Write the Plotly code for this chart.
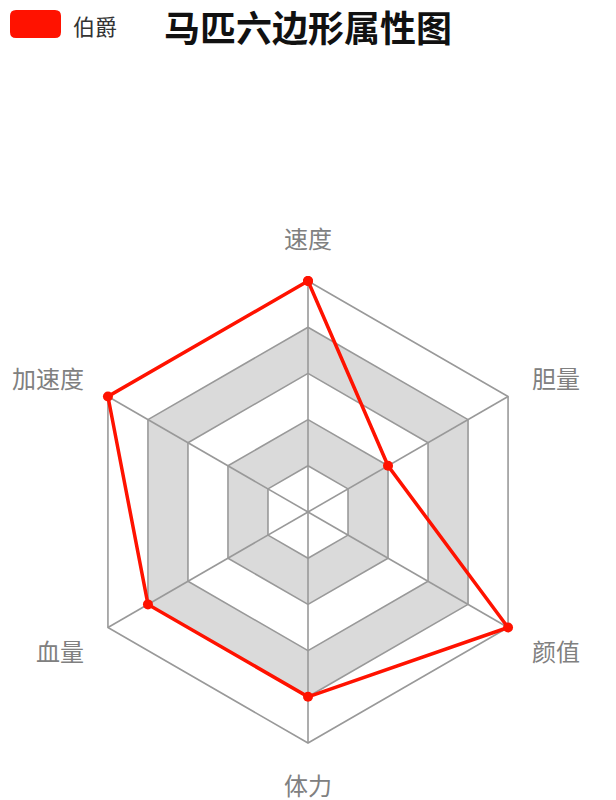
import plotly.graph_objects as go

categories = ["速度", "胆量", "颜值", "体力", "血量", "加速度"]
series_name = "伯爵"
values = [100, 40, 100, 80, 80, 100]
ring_levels = [20, 40, 60, 80, 100]
radial_max = 100
radial_pad = 1.5  # small headroom so outer lines are not clipped

W, H = 616, 800
cx, cy, R = 308, 512, 231
R_dom = R * (radial_max + radial_pad) / radial_max

GRID = "#999999"
BAND = "#dadada"
RED = "#ff1200"
FONT = "Noto Sans CJK SC"

theta_closed = categories + [categories[0]]

fig = go.Figure()

# alternating split areas (grey bands 20-40 and 60-80)
for lvl, col in [(80, BAND), (60, "white"), (40, BAND), (20, "white")]:
    fig.add_trace(go.Scatterpolar(
        r=[lvl] * len(theta_closed), theta=theta_closed, mode="lines",
        fill="toself", fillcolor=col, line=dict(width=0, color=col),
        hoverinfo="skip", showlegend=False))

# ring lines
for lvl in ring_levels:
    fig.add_trace(go.Scatterpolar(
        r=[lvl] * len(theta_closed), theta=theta_closed, mode="lines",
        line=dict(width=1.6, color=GRID), hoverinfo="skip", showlegend=False))

# spokes
for c in categories:
    fig.add_trace(go.Scatterpolar(
        r=[0, radial_max], theta=[c, c], mode="lines",
        line=dict(width=1.6, color=GRID), hoverinfo="skip", showlegend=False))

# data series
fig.add_trace(go.Scatterpolar(
    r=values + [values[0]], theta=theta_closed, mode="lines+markers",
    name=series_name, line=dict(color=RED, width=3.5),
    marker=dict(color=RED, size=10), showlegend=False, cliponaxis=False))

dom_x = [(cx - R_dom) / W, (cx + R_dom) / W]
dom_y = [(H - (cy + R_dom)) / H, (H - (cy - R_dom)) / H]

fig.update_layout(
    width=W, height=H,
    margin=dict(l=0, r=0, t=0, b=0),
    paper_bgcolor="white",
    plot_bgcolor="white",
    font=dict(family=FONT),
    polar=dict(
        domain=dict(x=dom_x, y=dom_y),
        bgcolor="white",
        gridshape="linear",
        radialaxis=dict(range=[0, radial_max + radial_pad], visible=False, showgrid=False),
        angularaxis=dict(
            rotation=90, direction="clockwise",
            categoryorder="array", categoryarray=categories,
            showgrid=False, showline=False,
            ticks="outside", ticklen=19, tickcolor="rgba(0,0,0,0)",
            tickfont=dict(size=24, color="#808080", family=FONT),
        ),
    ),
    title=dict(
        text="<b>马匹六边形属性图</b>", x=0.5, xanchor="center",
        y=1 - 29 / H, yanchor="middle", yref="container",
        font=dict(size=36, color="#111111", family=FONT),
    ),
    showlegend=False,
)

# legend (icon + label)
x0, x1 = 10 / W, 61 / W
y0, y1 = 1 - 38 / H, 1 - 10 / H
rad_x, rad_y = 6 / W, 6 / H
path = (f"M {x0+rad_x},{y0} L {x1-rad_x},{y0} Q {x1},{y0} {x1},{y0+rad_y} "
        f"L {x1},{y1-rad_y} Q {x1},{y1} {x1-rad_x},{y1} L {x0+rad_x},{y1} "
        f"Q {x0},{y1} {x0},{y1-rad_y} L {x0},{y0+rad_y} Q {x0},{y0} {x0+rad_x},{y0} Z")
fig.add_shape(type="path", path=path, xref="paper", yref="paper",
              fillcolor=RED, line=dict(width=0))
fig.add_annotation(text=series_name, x=71 / W, y=1 - 25 / H,
                   xref="paper", yref="paper",
                   xanchor="left", yanchor="middle", showarrow=False,
                   font=dict(size=22, color="#333333", family=FONT))

fig.write_html(
    "out.html",
    config={"displayModeBar": False},
    post_script="document.body.style.margin='0';document.body.style.overflow='hidden';",
)
